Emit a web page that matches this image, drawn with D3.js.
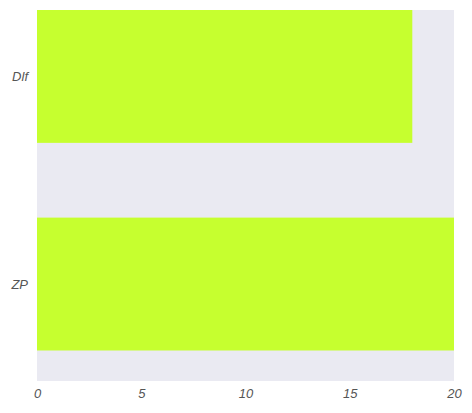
<!DOCTYPE html>
<html><head><meta charset="utf-8">
<script src="https://cdn.jsdelivr.net/npm/d3@7"></script>
<style>html,body{margin:0;padding:0;background:#fff;}</style>
</head><body>
<script>
const categories = ["ZP", "Dlf"];
const values = [20, 18];
const xTicks = [0, 5, 10, 15, 20];

(function () {
const W = 472, H = 413;
const mLeft = 37, mRight = 454, mTop = 10, mBottom = 381;
const svg = d3.select("body").append("svg").attr("width", W).attr("height", H);

const x = d3.scaleLinear().domain([0, 20]).range([mLeft, mRight]);
const y = d3.scaleLinear().domain([-0.467, 1.32]).range([mBottom, mTop]);
const barH = 0.64;

svg.append("rect").attr("x", mLeft).attr("y", mTop).attr("width", mRight - mLeft).attr("height", mBottom - mTop).attr("fill", "#EAEAF2");

svg.selectAll("rect.bar").data(categories).enter().append("rect")
  .attr("class", "bar")
  .attr("x", x(0))
  .attr("y", (d, i) => y(i + barH / 2))
  .attr("width", (d, i) => x(values[i]) - x(0))
  .attr("height", (d, i) => y(i - barH / 2) - y(i + barH / 2))
  .attr("fill", "#C6FF2F");

const font = "Liberation Sans, Arial, sans-serif";
const xAxis = d3.axisBottom(x).tickValues(xTicks).tickSize(0).tickPadding(8);
const gx = svg.append("g").attr("transform", `translate(0,${mBottom})`).call(xAxis);
gx.select(".domain").remove();
gx.selectAll("text").attr("font-family", font).attr("font-style", "italic").attr("font-size", 13).attr("fill", "#555");

const yAxis = d3.axisLeft(y).tickValues(categories.map((d, i) => i)).tickFormat(i => categories[i]).tickSize(0).tickPadding(9);
const gy = svg.append("g").attr("transform", `translate(${mLeft},0)`).call(yAxis);
gy.select(".domain").remove();
gy.selectAll("text").attr("font-family", font).attr("font-style", "italic").attr("font-size", 13).attr("fill", "#555");
})();
</script>
</body></html>
